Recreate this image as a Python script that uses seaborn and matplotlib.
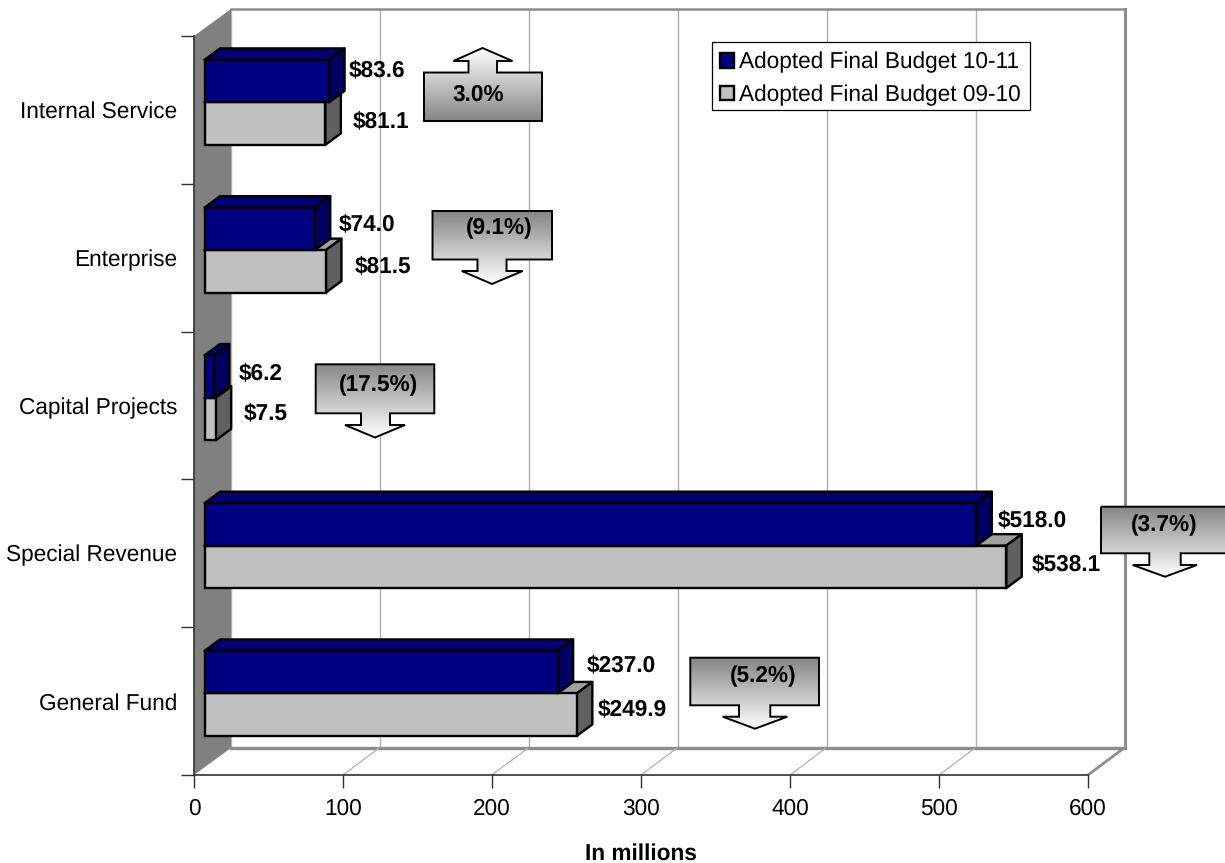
import numpy as np
import pandas as pd
import matplotlib
matplotlib.use("Agg")
import matplotlib.pyplot as plt
from matplotlib.colors import LinearSegmentedColormap
from matplotlib.patches import Polygon, Rectangle
import seaborn as sns

# Budget by fund type, in millions
funds = ["Internal Service", "Enterprise", "Capital Projects", "Special Revenue", "General Fund"]
budget_10_11 = [83.6, 74.0, 6.2, 518.0, 237.0]
budget_09_10 = [81.1, 81.5, 7.5, 538.1, 249.9]
series_names = ["Adopted Final Budget 10-11", "Adopted Final Budget 09-10"]
value_labels_10_11 = ["$83.6", "$74.0", "$6.2", "$518.0", "$237.0"]
value_labels_09_10 = ["$81.1", "$81.5", "$7.5", "$538.1", "$249.9"]
change_labels = ["3.0%", "(9.1%)", "(17.5%)", "(3.7%)", "(5.2%)"]
x_ticks = [0, 100, 200, 300, 400, 500, 600]

W, H = 1225, 863
FONT = 16.3
PX = 0.72  # points per pixel at 100 dpi

sns.set_theme(style="white")
plt.rcParams["font.family"] = ["Liberation Sans", "DejaVu Sans"]
plt.rcParams["text.color"] = "black"
plt.rcParams["text.hinting"] = "no_hinting"

fig = plt.figure(figsize=(W / 100, H / 100), dpi=100, facecolor="white")


def axes_from_pixels(x0, y0, x1, y1, **kw):
    return fig.add_axes([x0 / W, 1 - y1 / H, (x1 - x0) / W, (y1 - y0) / H], **kw)


# Back wall with its vertical gridlines
ax_back = axes_from_pixels(231, 9, 1124.5, 748, zorder=0)
ax_back.set_xlim(0, 600)
ax_back.set_ylim(0, 1)
ax_back.set_xticks(x_ticks)
ax_back.set_yticks([])
ax_back.tick_params(length=0, labelbottom=False)
ax_back.grid(axis="x", color="#b2b2b2", linewidth=1.0)
ax_back.spines["left"].set_visible(False)
for side, lw in [("top", 1.8), ("right", 2.2), ("bottom", 2.4)]:
    ax_back.spines[side].set_color("#8c8c8c")
    ax_back.spines[side].set_linewidth(lw)

# Pixel-space layer for the side wall, floor and change callouts
ax_px = fig.add_axes([0, 0, 1, 1], zorder=1)
ax_px.set_xlim(0, W)
ax_px.set_ylim(H, 0)
ax_px.axis("off")
ax_px.add_patch(Polygon([(194, 36), (231, 9), (231, 748), (194, 775)],
                        closed=True, facecolor="#808080", edgecolor="none"))
for tick in x_ticks[1:]:
    front = 194 + tick * 1.49
    is_last = tick == x_ticks[-1]
    ax_px.plot([front, front + 36], [775, 748],
               color="#8c8c8c" if is_last else "#b2b2b2",
               linewidth=2.0 if is_last else 0.9, solid_capstyle="butt")

# Legend frame sits above the gridlines
ax_px.add_patch(Rectangle((711.7, 42), 318.3, 68, facecolor="white", edgecolor="black",
                          linewidth=0.9, zorder=1.5))

# Front plane: numeric axis and category labels
ax_frame = axes_from_pixels(194, 36, 1088, 775, zorder=2)
ax_frame.patch.set_visible(False)
ax_frame.set_xlim(0, 600)
ax_frame.set_ylim(4.5, -0.5)
ax_frame.set_xticks(x_ticks)
ax_frame.set_yticks(range(len(funds)), funds)
ax_frame.set_yticks(np.arange(-0.5, 5), minor=True)
ax_frame.tick_params(axis="x", length=13 * PX, width=1.0, color="#303030",
                     labelsize=FONT, labelcolor="black", pad=7.5, bottom=True)
ax_frame.tick_params(axis="y", which="major", length=0, pad=12.2,
                     labelsize=FONT, labelcolor="black")
ax_frame.tick_params(axis="y", which="minor", length=13 * PX, width=1.0, color="#303030", left=True)
ax_frame.set_xlabel("In millions", fontsize=FONT, fontweight="bold", color="black", labelpad=16.5)
for side in ("top", "right"):
    ax_frame.spines[side].set_visible(False)
for side in ("left", "bottom"):
    ax_frame.spines[side].set_color("#303030")
    ax_frame.spines[side].set_linewidth(1.2)

# Bars
long_df = pd.DataFrame({
    "fund": funds * 2,
    "value": budget_10_11 + budget_09_10,
    "series": [series_names[0]] * len(funds) + [series_names[1]] * len(funds),
})
front_colors = {series_names[0]: "#000080", series_names[1]: "#C0C0C0"}
ax_bars = axes_from_pixels(204.5, 28.5, 1098.5, 767.3, zorder=3)
sns.barplot(data=long_df, y="fund", x="value", hue="series", order=funds, hue_order=series_names,
            palette=front_colors, orient="h", width=0.575, gap=0, saturation=1,
            edgecolor="black", linewidth=1.7, errorbar=None, ax=ax_bars)
ax_bars.set_xlim(0, 600)
ax_bars.set_ylim(4.5, -0.5)
handles, labels = ax_bars.get_legend_handles_labels()
ax_bars.axis("off")

# Extrude each bar backwards: side and top faces come from the bar's own rectangle
DEPTH_X = 15.5 / 1.49
DEPTH_Y = 11.5 / 147.75
n = len(funds)
bars = [p for p in ax_bars.patches if p.get_width() > 0]
for i, bar in enumerate(bars):
    is_blue = i < n
    base = 4 if is_blue else 2
    bar.set_zorder(base + 1)
    bar.set_clip_on(False)
    x0, x1 = bar.get_x(), bar.get_x() + bar.get_width()
    y0, y1 = bar.get_y(), bar.get_y() + bar.get_height()
    y_top, y_bot = min(y0, y1), max(y0, y1)
    side = [(x1, y_top), (x1 + DEPTH_X, y_top - DEPTH_Y), (x1 + DEPTH_X, y_bot - DEPTH_Y), (x1, y_bot)]
    top = [(x0, y_top), (x0 + DEPTH_X, y_top - DEPTH_Y), (x1 + DEPTH_X, y_top - DEPTH_Y), (x1, y_top)]
    ax_bars.add_patch(Polygon(top, closed=True, facecolor="#000070" if is_blue else "#A0A0A0",
                              edgecolor="black", linewidth=1.7, joinstyle="round",
                              zorder=base, clip_on=False))
    ax_bars.add_patch(Polygon(side, closed=True, facecolor="#000060" if is_blue else "#606060",
                              edgecolor="black", linewidth=1.7, joinstyle="round",
                              zorder=base, clip_on=False))

# Value labels, placed to the right of each bar's end
label_gap_blue = [20, 24, 25, 21, 29]
label_gap_gray = [27, 29, 28, 25, 21]
label_y_blue = [70, 224, 373, 520, 665]
label_y_gray = [121, 266, 413, 564, 709]
for i in range(n):
    for vals, texts, gaps, ys in [(budget_10_11, value_labels_10_11, label_gap_blue, label_y_blue),
                                  (budget_09_10, value_labels_09_10, label_gap_gray, label_y_gray)]:
        ax_px.text(204.5 + vals[i] * 1.49 + gaps[i], ys[i], texts[i], ha="left", va="center",
                   fontsize=FONT, fontweight="bold", color="black")

# Legend entries; the frame is the rectangle drawn on the pixel layer
legend = ax_bars.legend(handles, labels, loc="upper left",
                        bbox_to_anchor=(711.5 / W, 1 - 43 / H), bbox_transform=fig.transFigure,
                        fontsize=FONT, frameon=False, borderaxespad=0, borderpad=0.38,
                        handlelength=0.62, handleheight=0.62, handletextpad=0.2, labelspacing=0.5)
legend.set_zorder(20)

# Change callouts
callout_cmap = LinearSegmentedColormap.from_list("callout", ["#858585", "#ffffff"])


def callout(box_l, box_r, box_top, box_bot, stem_l, stem_r, neck, head_l, head_r, tip_x, tip_y):
    if tip_y > box_top:
        pts = [(box_l, box_top), (box_r, box_top), (box_r, box_bot), (stem_r, box_bot), (stem_r, neck),
               (head_r, neck), (tip_x, tip_y), (head_l, neck), (stem_l, neck), (stem_l, box_bot), (box_l, box_bot)]
        extent = (box_l, box_r, tip_y, box_top)
        grad = np.linspace(0, 1, 256)[:, None]
    else:
        pts = [(box_l, box_top), (stem_l, box_top), (stem_l, neck), (head_l, neck), (tip_x, tip_y),
               (head_r, neck), (stem_r, neck), (stem_r, box_top), (box_r, box_top), (box_r, box_bot), (box_l, box_bot)]
        extent = (box_l, box_r, box_bot, tip_y)
        grad = np.linspace(1, 0, 256)[:, None]
    outline = Polygon(pts, closed=True, facecolor="none", edgecolor="black", linewidth=1.4,
                      joinstyle="miter", zorder=3)
    ax_px.add_patch(outline)
    img = ax_px.imshow(grad, cmap=callout_cmap, extent=extent, aspect="auto", zorder=2, vmin=0, vmax=1)
    img.set_clip_path(outline)


callout(424, 542, 72.5, 121, 468.5, 497, 61, 453.5, 512.5, 482.5, 48)
callout(432.5, 552, 211, 259.5, 477.5, 506.5, 271, 461.7, 522.7, 492, 284)
callout(315.7, 434.3, 364.3, 413.3, 361, 390, 425, 345, 405, 375, 437.5)
callout(1101, 1229, 506.7, 553.3, 1149.3, 1180.7, 565, 1132.7, 1197, 1165, 576.7)
callout(690.3, 819, 657.7, 705.3, 739, 770.3, 716.7, 722.7, 787.3, 755, 728.7)
ax_px.set_xlim(0, W)
ax_px.set_ylim(H, 0)

for text, (cx, cy) in zip(change_labels, [(478, 95), (499, 228), (378, 385), (1164, 525), (763, 676)]):
    ax_px.text(cx, cy, text, ha="center", va="center", fontsize=FONT, fontweight="bold",
               color="black", zorder=5)

fig.savefig("out.png", dpi=100, facecolor="white")
